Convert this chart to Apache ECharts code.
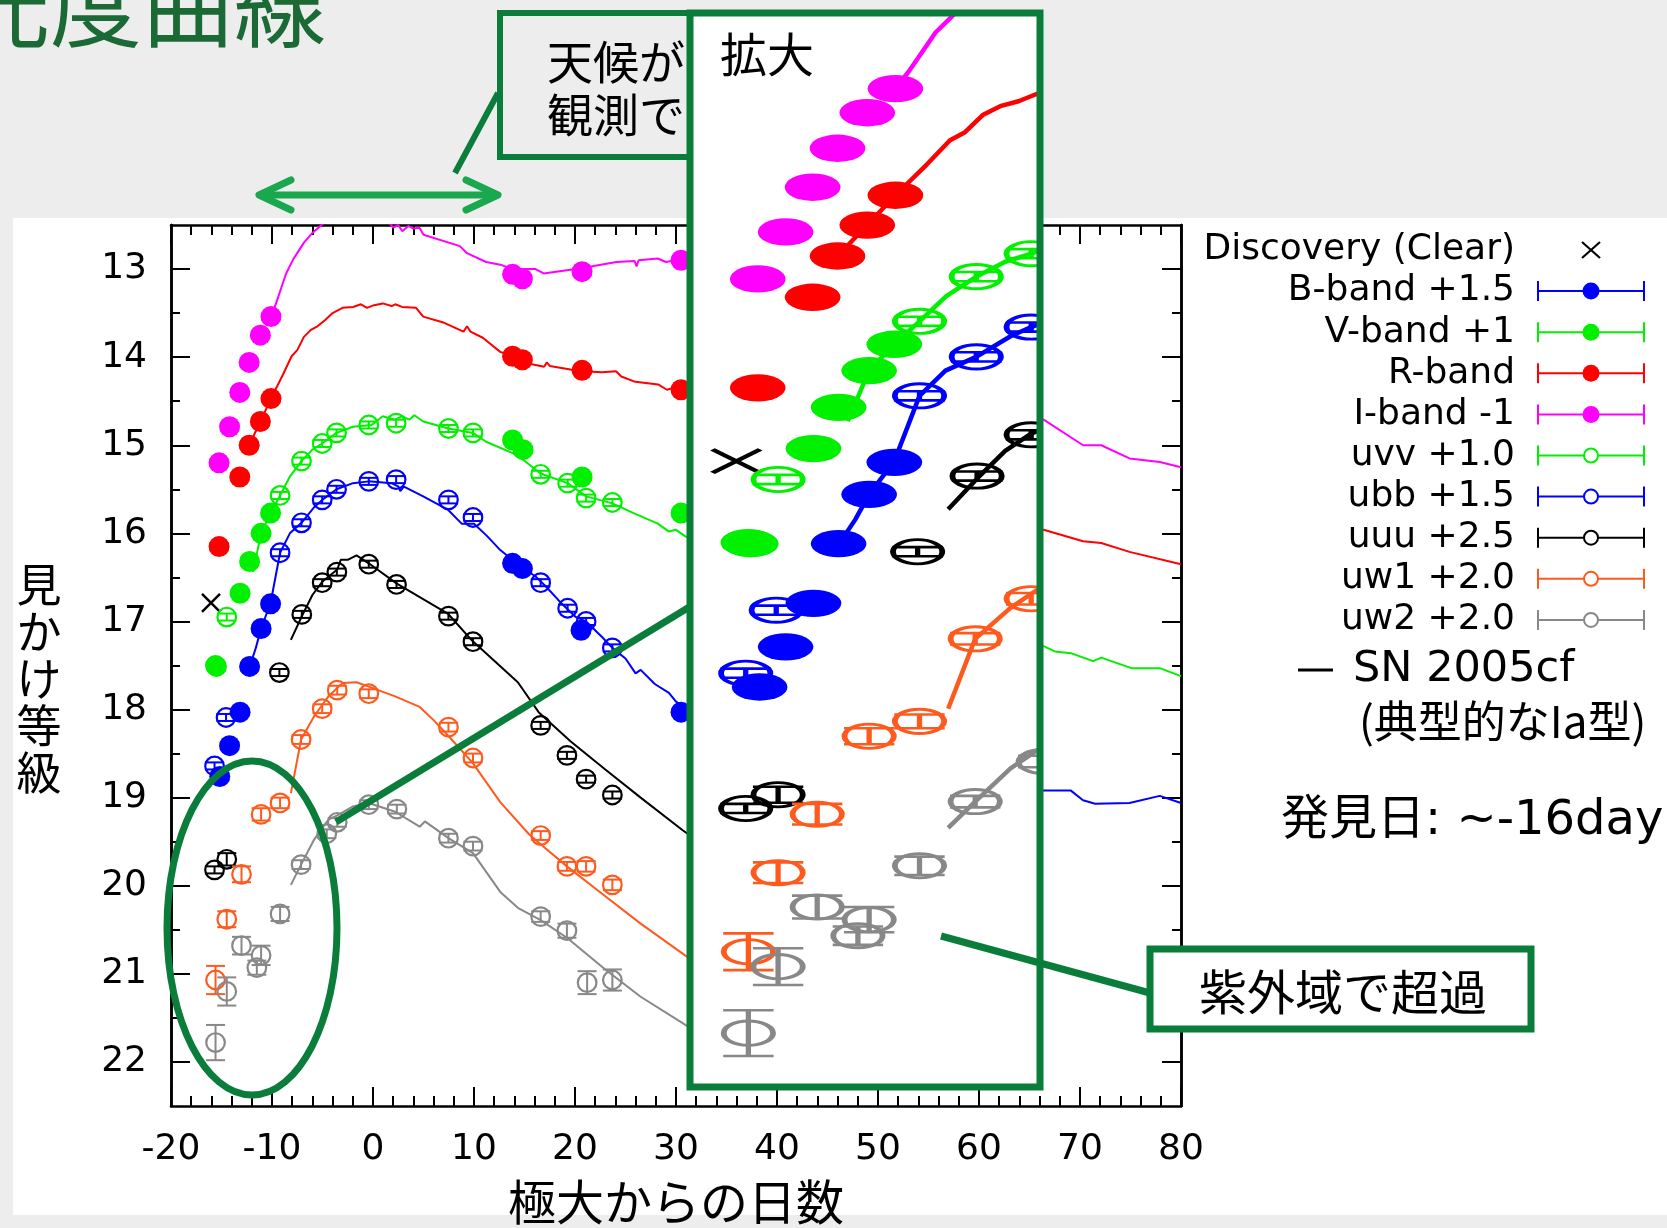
<!DOCTYPE html>
<html>
<head>
<meta charset="utf-8">
<script src="https://cdn.jsdelivr.net/npm/echarts@6/dist/echarts.min.js"></script>
<style>
  html, body { margin: 0; padding: 0; background: #ededed; }
  #chart { width: 1667px; height: 1228px; }
</style>
</head>
<body>
<div id="chart"></div>
<script>
// ---------- observed photometry: [day from maximum, magnitude, error] ----------
const discovery = [[-16.04, 16.79, 0]];
const bBand = [[-15.17,18.76,0.03],[-14.2,18.41,0.03],[-13.16,18.03,0.03],[-12.22,17.51,0.03],[-11.08,17.08,0.03],[-10.14,16.8,0.03],[13.82,16.34,0.03],[14.79,16.4,0.03],[20.6,17.1,0.03],[30.5,18.03,0.03]];
const vBand = [[-15.5,17.51,0.03],[-13.16,16.68,0.03],[-12.22,16.32,0.03],[-11.08,16.0,0.03],[-10.14,15.77,0.03],[13.82,14.94,0.03],[14.86,15.05,0.03],[20.7,15.36,0.03],[30.5,15.77,0.03]];
const rBand = [[-15.24,16.15,0.03],[-13.19,15.36,0.03],[-12.26,15.0,0.03],[-11.15,14.73,0.03],[-10.1,14.47,0.03],[13.82,13.99,0.03],[14.79,14.03,0.03],[20.7,14.15,0.03],[30.5,14.37,0.03]];
const iBand = [[-15.24,15.2,0.03],[-14.2,14.79,0.03],[-13.19,14.4,0.03],[-12.26,14.06,0.03],[-11.15,13.75,0.03],[-10.1,13.54,0.03],[13.82,13.06,0.03],[14.79,13.11,0.03],[20.7,13.03,0.03],[30.5,12.9,0.03]];
const uvv = [[-15.6,17.5,0.04],[-14.48,16.95,0.04],[-9.2,15.57,0.04],[-7.08,15.18,0.04],[-5.03,14.98,0.04],[-3.61,14.86,0.04],[-0.42,14.77,0.04],[2.29,14.75,0.04],[7.47,14.81,0.04],[9.9,14.86,0.04],[16.6,15.33,0.04],[19.27,15.43,0.04],[21.1,15.6,0.04],[23.7,15.65,0.04]];
const ubb = [[-15.69,18.64,0.04],[-14.55,18.09,0.04],[-9.2,16.22,0.04],[-7.08,15.88,0.04],[-5.03,15.62,0.04],[-3.61,15.5,0.04],[-0.42,15.41,0.04],[2.29,15.39,0.04],[7.47,15.62,0.04],[9.9,15.82,0.04],[16.6,16.56,0.04],[19.27,16.85,0.04],[21.1,17.0,0.04],[23.7,17.3,0.04]];
const uuu = [[-15.69,19.82,0.04],[-14.48,19.7,0.07],[-9.27,17.58,0.04],[-7.05,16.92,0.04],[-5.03,16.56,0.04],[-3.58,16.44,0.04],[-0.42,16.35,0.04],[2.33,16.58,0.04],[7.47,16.94,0.04],[9.9,17.23,0.04],[16.6,18.18,0.04],[19.2,18.52,0.04],[21.1,18.79,0.04],[23.7,18.97,0.04]];
const uw1 = [[-15.59,21.07,0.16],[-14.48,20.38,0.09],[-13.02,19.87,0.09],[-11.08,19.19,0.07],[-9.2,19.06,0.06],[-7.12,18.34,0.05],[-5.03,17.99,0.05],[-3.54,17.78,0.05],[-0.42,17.82,0.05],[7.47,18.2,0.05],[9.9,18.55,0.05],[16.6,19.43,0.05],[19.2,19.78,0.05],[21.1,19.78,0.06],[23.7,19.99,0.06]];
const uw2 = [[-15.59,21.78,0.2],[-14.48,21.2,0.16],[-13.02,20.68,0.1],[-11.08,20.79,0.11],[-11.5,20.93,0.08],[-9.2,20.32,0.08],[-7.12,19.76,0.05],[-4.58,19.41,0.05],[-3.54,19.28,0.05],[-0.42,19.08,0.05],[2.36,19.13,0.05],[7.47,19.46,0.05],[9.9,19.55,0.05],[16.6,20.35,0.06],[19.2,20.51,0.08],[21.2,21.1,0.13],[23.7,21.07,0.12]];

// ---------- SN 2005cf template curves: [day, magnitude] ----------
const tplI = [[-10.1,13.54],[-9.6,13.39],[-8.6,13.05],[-7.9,12.89],[-6.84,12.7],[-6.0,12.59],[-5.1,12.5],[-4.5,12.44],[-2,12.38],[0,12.4],[1.5,12.46],[2.0,12.53],[2.5,12.5],[2.9,12.57],[3.5,12.51],[4.0,12.54],[4.6,12.53],[5.0,12.61],[8.6,12.74],[9.3,12.82],[11.2,12.92],[12.6,12.95],[13.8,13.0],[16.1,13.0],[16.9,13.05],[20.6,12.99],[24.1,12.92],[25.9,12.91],[26.1,12.97],[26.3,12.9],[28.2,12.88],[29.0,12.92],[30.0,12.9],[31.0,12.88],[66.4,14.71],[70.3,15.0],[72.1,15.0],[74.9,15.15],[77.9,15.19],[80,15.25]];
const tplR = [[-12.26,15.0],[-11.15,14.73],[-10.1,14.47],[-8.92,14.2],[-8.06,13.99],[-7.5,13.92],[-6.84,13.77],[-6.15,13.69],[-5.5,13.65],[-4.76,13.58],[-4,13.5],[-3.02,13.44],[-1.98,13.43],[-1.2,13.4],[-0.59,13.44],[0.1,13.41],[0.97,13.39],[1.84,13.42],[2.2,13.4],[2.88,13.43],[4.27,13.44],[4.97,13.54],[7.05,13.61],[8.96,13.71],[9.31,13.65],[9.65,13.71],[10.87,13.78],[12.6,13.94],[13.82,13.99],[14.86,14.03],[15.73,14.08],[16.94,14.11],[17.2,14.06],[17.5,14.1],[19.55,14.14],[20.76,14.16],[22.67,14.17],[24.06,14.16],[24.58,14.22],[25.97,14.28],[28.23,14.31],[29.1,14.37],[30.0,14.34],[31.0,14.41],[66.4,15.96],[70.3,16.09],[72.1,16.11],[74.9,16.21],[80,16.35]];
const tplV = [[-11.88,16.44],[-11.08,16.0],[-10.14,15.77],[-9.2,15.57],[-8.2,15.35],[-7.08,15.18],[-6,15.05],[-5.03,14.98],[-3.61,14.86],[-1.98,14.79],[-0.14,14.77],[0.97,14.67],[2.19,14.71],[2.88,14.67],[3.58,14.71],[4.1,14.66],[4.97,14.73],[7.47,14.81],[9.9,14.86],[11.2,14.96],[13.82,15.09],[14.7,15.15],[16.6,15.32],[19.27,15.43],[21.1,15.58],[23.7,15.66],[25.8,15.77],[28.2,15.89],[29.3,15.98],[30.0,15.96],[31.0,16.04],[66.4,17.28],[67.5,17.34],[69.1,17.36],[71.3,17.45],[72.1,17.41],[75.1,17.53],[77.9,17.53],[80,17.62]];
const tplB = [[-12.2,17.51],[-11.6,17.3],[-11.08,17.08],[-10.14,16.79],[-9.2,16.22],[-8.23,16.0],[-7.08,15.88],[-5.8,15.7],[-5.03,15.62],[-3.61,15.5],[-1.98,15.43],[-0.42,15.41],[1.84,15.43],[2.53,15.47],[2.7,15.52],[3.06,15.47],[4.97,15.58],[7.4,15.73],[8.78,15.89],[10.0,15.89],[11.2,16.02],[11.7,16.08],[12.6,16.19],[13.8,16.3],[14.7,16.38],[16.1,16.49],[17.1,16.6],[18.7,16.8],[20.07,16.95],[21.1,17.0],[22.7,17.18],[23.7,17.3],[25.0,17.42],[26.0,17.59],[26.5,17.55],[27.9,17.71],[29.3,17.81],[30.0,17.91],[31.0,17.99],[66.4,18.92],[69.1,18.92],[70.3,19.03],[71.5,19.07],[74.9,19.06],[77.9,18.98],[80,19.06]];
const tplU = [[-8.13,17.21],[-7.0,16.93],[-6.0,16.7],[-5.03,16.55],[-3.54,16.41],[-3.19,16.3],[-2.5,16.3],[-1.63,16.25],[-0.42,16.34],[2.36,16.57],[7.4,16.91],[9.83,17.22],[14.34,17.69],[16.4,18.03],[19.55,18.36],[23.0,18.68],[26.5,19.0],[30.66,19.37],[32,19.48]];
const tplW1 = [[-8.13,18.95],[-7.12,18.34],[-5.8,18.07],[-4.41,17.85],[-3.02,17.7],[-1.63,17.69],[-0.42,17.74],[2.19,17.85],[4.62,17.97],[6.0,18.12],[7.47,18.3],[9.83,18.6],[12.6,19.05],[15.4,19.41],[16.6,19.53],[19.2,19.78],[23.0,20.12],[26.5,20.43],[30.66,20.77],[32,20.88]];
const tplW2 = [[-8.13,19.99],[-7.12,19.76],[-5.8,19.47],[-4.41,19.25],[-3.54,19.2],[-1.98,19.1],[-0.42,19.06],[2.19,19.16],[4.62,19.33],[5.14,19.27],[7.47,19.46],[9.9,19.63],[12.6,20.07],[14.34,20.25],[16.6,20.39],[19.2,20.59],[23.0,20.95],[26.5,21.26],[30.66,21.56],[32,21.66]];

// ---------- axis ticks ----------
const xTickInterval = 10;
const yMajorTicks = [13, 14, 15, 16, 17, 18, 19, 20, 21, 22];
const yMinorTicks = [13.5, 14.5, 15.5, 16.5, 17.5, 18.5, 19.5, 20.5, 21.5];

// ---------- series definitions ----------
const bands = [
  { label: 'Discovery (Clear)', kind: 'cross',  color: '#000000', data: discovery },
  { label: 'B-band +1.5',       kind: 'filled', color: '#0000ff', data: bBand },
  { label: 'V-band +1',         kind: 'filled', color: '#00f000', data: vBand },
  { label: 'R-band',            kind: 'filled', color: '#ff0000', data: rBand },
  { label: 'I-band -1',         kind: 'filled', color: '#ff00ff', data: iBand },
  { label: 'uvv +1.0',          kind: 'open',   color: '#00f000', data: uvv },
  { label: 'ubb +1.5',          kind: 'open',   color: '#0000ff', data: ubb },
  { label: 'uuu +2.5',          kind: 'open',   color: '#000000', data: uuu },
  { label: 'uw1 +2.0',          kind: 'open',   color: '#ff5a1e', data: uw1 },
  { label: 'uw2 +2.0',          kind: 'open',   color: '#888888', data: uw2 }
];
const templates = [
  { color: '#ff00ff', data: tplI },
  { color: '#ff0000', data: tplR },
  { color: '#00f000', data: tplV },
  { color: '#0000ff', data: tplB },
  { color: '#000000', data: tplU },
  { color: '#ff5a1e', data: tplW1 },
  { color: '#888888', data: tplW2 }
];

// ---------- layout ----------
const MAIN = { left: 171, top: 225, width: 1010, height: 881 };
const MAIN_RANGE = { x: [-20, 80], y: [12.5, 22.5] };
const INSET = { left: 690, top: 13, width: 350, height: 1074 };
const INSET_RANGE = { x: [-17.77, -4.7], y: [12.88, 22.25] };
const MAIN_PX = [MAIN.width / (MAIN_RANGE.x[1] - MAIN_RANGE.x[0]),
                 MAIN.height / (MAIN_RANGE.y[1] - MAIN_RANGE.y[0])];
const GREEN_DARK = '#0b7d3b';
const GREEN_ARROW = '#1aa84e';
const CAP = 9.5;
const FONT_LAT = '"DejaVu Sans", "Noto Sans CJK JP", sans-serif';
const FONT_JP = '"Noto Sans CJK JP", "DejaVu Sans", sans-serif';

function seg(x1, y1, x2, y2, color, w) {
  return { type: 'line', shape: { x1, y1, x2, y2 }, style: { stroke: color, lineWidth: w, fill: 'transparent' } };
}

// marker with error bar; the magnified panel stretches every glyph by its own axis scale
function makeMarker(band, magnified) {
  return function (params, api) {
    const d = api.value(0), m = api.value(1), e = api.value(2) || 0;
    const p = api.coord([d, m]);
    const size = api.size([1, 1]);
    const sx = magnified ? Math.abs(size[0]) / MAIN_PX[0] : 1;
    const sy = magnified ? Math.abs(size[1]) / MAIN_PX[1] : 1;
    const h = Math.abs(api.coord([d, m + e])[1] - p[1]) / sy;
    const c = band.color;
    const kids = [];
    if (band.kind === 'cross') {
      kids.push(seg(-9, -9, 9, 9, c, 2.5), seg(-9, 9, 9, -9, c, 2.5));
    } else {
      kids.push(seg(0, -h, 0, h, c, 2), seg(-CAP, -h, CAP, -h, c, 2), seg(-CAP, h, CAP, h, c, 2));
      if (band.kind === 'filled') {
        kids.push({ type: 'circle', shape: { cx: 0, cy: 0, r: 10.5 }, style: { fill: c } });
      } else {
        kids.push({ type: 'circle', shape: { cx: 0, cy: 0, r: 9.3 }, style: { fill: 'transparent', stroke: c, lineWidth: 2.2 } });
      }
    }
    return { type: 'group', x: p[0], y: p[1], scaleX: sx, scaleY: sy, children: kids };
  };
}

const series = [];
[false, true].forEach(function (magnified) {
  const xi = magnified ? 2 : 0, yi = magnified ? 4 : 0, zb = magnified ? 110 : 2;
  templates.forEach(function (t) {
    series.push({
      type: 'line', xAxisIndex: xi, yAxisIndex: yi, data: t.data, symbol: 'none', showSymbol: false,
      clip: true, z: zb, silent: true,
      lineStyle: { color: t.color, width: magnified ? 4.5 : 2 }
    });
  });
  bands.forEach(function (b) {
    series.push({
      type: 'custom', xAxisIndex: xi, yAxisIndex: yi, data: b.data, clip: true, z: zb + 1, silent: true,
      dimensions: ['day', 'mag', 'err'], encode: { x: 0, y: 1 },
      renderItem: makeMarker(b, magnified)
    });
  });
});

function mainX(position, withLabels) {
  return {
    gridIndex: 0, type: 'value', position: position, min: MAIN_RANGE.x[0], max: MAIN_RANGE.x[1], interval: xTickInterval,
    axisLine: { show: true, onZero: false, lineStyle: { color: '#000', width: 2.5 } },
    axisTick: { show: true, inside: true, length: 19, lineStyle: { color: '#000', width: 2 } },
    minorTick: { show: true, splitNumber: 5, length: 10, lineStyle: { color: '#000', width: 2 } },
    axisLabel: { show: withLabels, margin: 26, color: '#000', fontSize: 36, fontFamily: FONT_LAT },
    splitLine: { show: false }, minorSplitLine: { show: false },
    name: withLabels ? '極大からの日数' : '', nameLocation: 'middle', nameGap: 72,
    nameTextStyle: { color: '#000', fontSize: 48, fontFamily: FONT_JP }
  };
}
function mainY(position, ticks, len, withLabels) {
  return {
    gridIndex: 0, type: 'value', position: position, inverse: true, min: MAIN_RANGE.y[0], max: MAIN_RANGE.y[1],
    axisLine: { show: true, onZero: false, lineStyle: { color: '#000', width: 2.5 } },
    axisTick: { show: true, inside: true, length: len, customValues: ticks, lineStyle: { color: '#000', width: 2 } },
    axisLabel: { show: withLabels, customValues: ticks, margin: 24, color: '#000', fontSize: 36, fontFamily: FONT_LAT },
    splitLine: { show: false }
  };
}

// legend rows drawn as graphics: right-aligned label, capped line, marker
const legendEls = [];
const LEG_Y0 = 250, LEG_DY = 41.1, LEG_TX = 1515, LEG_L = 1538, LEG_R = 1644, LEG_M = 1591;
bands.forEach(function (b, i) {
  const y = LEG_Y0 + LEG_DY * i;
  legendEls.push({ type: 'text', z: 50, style: { text: b.label, x: LEG_TX, y: y, align: 'right', verticalAlign: 'middle', fill: '#000', font: '36px ' + FONT_LAT } });
  if (b.kind === 'cross') {
    legendEls.push(Object.assign(seg(LEG_M - 9, y - 8, LEG_M + 9, y + 8, '#000', 2.2), { z: 50 }));
    legendEls.push(Object.assign(seg(LEG_M - 9, y + 8, LEG_M + 9, y - 8, '#000', 2.2), { z: 50 }));
  } else {
    legendEls.push(Object.assign(seg(LEG_L, y, LEG_R, y, b.color, 2), { z: 50 }));
    legendEls.push(Object.assign(seg(LEG_L, y - 10, LEG_L, y + 10, b.color, 2), { z: 50 }));
    legendEls.push(Object.assign(seg(LEG_R, y - 10, LEG_R, y + 10, b.color, 2), { z: 50 }));
    legendEls.push(b.kind === 'filled'
      ? { type: 'circle', z: 51, shape: { cx: LEG_M, cy: y, r: 8.5 }, style: { fill: b.color } }
      : { type: 'circle', z: 51, shape: { cx: LEG_M, cy: y, r: 7 }, style: { fill: '#fff', stroke: b.color, lineWidth: 2 } });
  }
});

const graphics = [
  // white plot panel over the patterned slide background
  { type: 'rect', z: -1, silent: true, shape: { x: 13, y: 218, width: 1654, height: 997 }, style: { fill: '#ffffff' } },
  // slide title
  { type: 'text', z: 50, style: { text: '光度曲線', x: -42, y: 5, verticalAlign: 'middle', fill: '#1b6a36', font: '92px ' + FONT_JP } },
  // weather callout
  { type: 'rect', z: 50, shape: { x: 500, y: 13, width: 230, height: 144 }, style: { fill: 'transparent', stroke: GREEN_DARK, lineWidth: 6 } },
  { type: 'text', z: 50, style: { text: '天候が', x: 547, y: 62, verticalAlign: 'middle', fill: '#000', font: '46px ' + FONT_JP } },
  { type: 'text', z: 50, style: { text: '観測で', x: 547, y: 115, verticalAlign: 'middle', fill: '#000', font: '46px ' + FONT_JP } },
  Object.assign(seg(455, 173, 498, 93, GREEN_DARK, 6), { z: 50 }),
  // double-headed arrow
  Object.assign(seg(260, 195, 497, 195, GREEN_ARROW, 7), { z: 50 }),
  { type: 'polyline', z: 50, shape: { points: [[291, 180], [259, 195], [291, 210]] }, style: { stroke: GREEN_ARROW, lineWidth: 7, fill: 'transparent', lineCap: 'round', lineJoin: 'round' } },
  { type: 'polyline', z: 50, shape: { points: [[466, 180], [498, 195], [466, 210]] }, style: { stroke: GREEN_ARROW, lineWidth: 7, fill: 'transparent', lineCap: 'round', lineJoin: 'round' } },
  // magnified panel
  { type: 'rect', z: 100, silent: true, shape: { x: INSET.left, y: INSET.top, width: INSET.width, height: INSET.height }, style: { fill: '#ffffff' } },
  { type: 'rect', z: 120, silent: true, shape: { x: INSET.left, y: INSET.top, width: INSET.width, height: INSET.height }, style: { fill: 'transparent', stroke: GREEN_DARK, lineWidth: 7 } },
  { type: 'text', z: 121, style: { text: '拡大', x: 720, y: 54, verticalAlign: 'middle', fill: '#000', font: '47px ' + FONT_JP } },
  // early-time ellipse and its leader to the panel
  { type: 'ellipse', z: 130, shape: { cx: 252, cy: 928, rx: 85, ry: 167 }, style: { fill: 'transparent', stroke: GREEN_DARK, lineWidth: 7 } },
  Object.assign(seg(336, 822, 691, 606, GREEN_DARK, 7), { z: 130 }),
  // UV excess callout
  Object.assign(seg(941, 936, 1150, 993, GREEN_DARK, 7), { z: 130 }),
  { type: 'rect', z: 131, shape: { x: 1150, y: 949, width: 381, height: 80 }, style: { fill: '#ffffff', stroke: GREEN_DARK, lineWidth: 7 } },
  { type: 'text', z: 132, style: { text: '紫外域で超過', x: 1343, y: 992, align: 'center', verticalAlign: 'middle', fill: '#000', font: '48px ' + FONT_JP } },
  // y-axis title, stacked characters
  { type: 'text', z: 50, style: { text: '見\nか\nけ\n等\n級', x: 39, y: 679, align: 'center', verticalAlign: 'middle', lineHeight: 47, fill: '#000', font: '45px ' + FONT_JP } },
  // template note and discovery date
  Object.assign(seg(1298, 670, 1333, 670, '#000', 3), { z: 50 }),
  { type: 'text', z: 50, style: { text: 'SN 2005cf', x: 1353, y: 670, verticalAlign: 'middle', fill: '#000', font: '43px ' + FONT_LAT } },
  { type: 'text', z: 50, style: { text: '(典型的なIa型)', x: 1359, y: 721, verticalAlign: 'middle', fill: '#000', font: '44px ' + FONT_JP } },
  { type: 'text', z: 50, style: { text: '発見日: ~-16day', x: 1281, y: 822, verticalAlign: 'middle', fill: '#000', font: '48px ' + FONT_LAT } }
].concat(legendEls);

const chart = echarts.init(document.getElementById('chart'), null, { renderer: 'canvas' });
chart.setOption({
  animation: false,
  backgroundColor: '#ededed',
  grid: [
    { left: MAIN.left, top: MAIN.top, width: MAIN.width, height: MAIN.height, containLabel: false, outerBoundsMode: 'none' },
    { left: INSET.left, top: INSET.top, width: INSET.width, height: INSET.height, containLabel: false, outerBoundsMode: 'none' }
  ],
  xAxis: [
    mainX('bottom', true),
    mainX('top', false),
    { gridIndex: 1, type: 'value', show: false, min: INSET_RANGE.x[0], max: INSET_RANGE.x[1], splitLine: { show: false } }
  ],
  yAxis: [
    mainY('left', yMajorTicks, 19, true),
    mainY('left', yMinorTicks, 9, false),
    mainY('right', yMajorTicks, 19, false),
    mainY('right', yMinorTicks, 9, false),
    { gridIndex: 1, type: 'value', show: false, inverse: true, min: INSET_RANGE.y[0], max: INSET_RANGE.y[1], splitLine: { show: false } }
  ],
  graphic: { elements: graphics },
  series: series
});
</script>
</body>
</html>
